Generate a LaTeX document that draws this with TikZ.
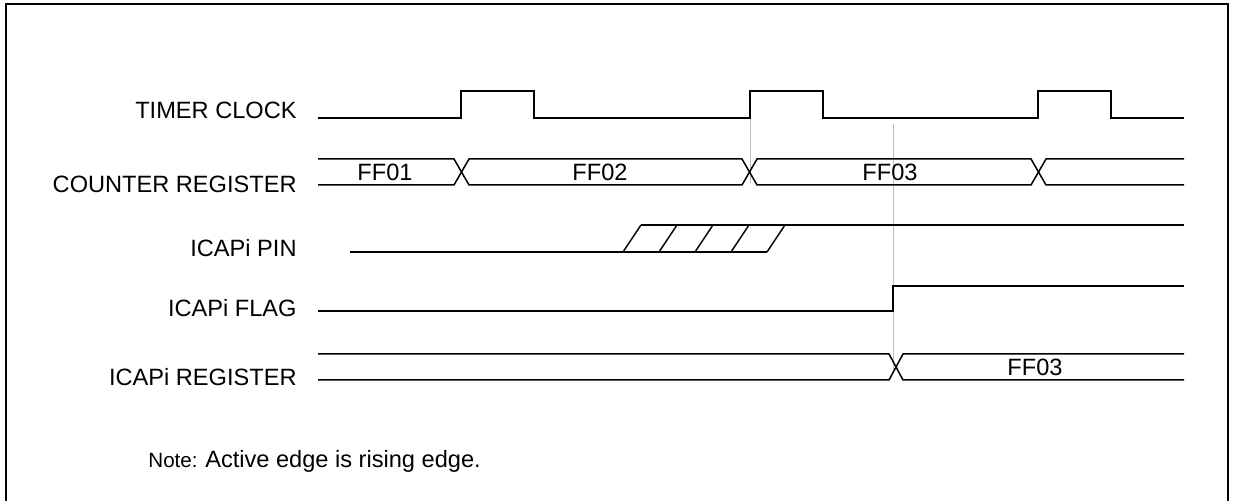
\documentclass[tikz,border=0pt]{standalone}
\usepackage{fontspec}
\setmainfont{Liberation Sans}
\tikzset{
  wave/.style={line width=1pt},
  bus/.style={line width=0.75pt},
  guide/.style={draw=black!25, line width=0.5pt},
  signame/.style={anchor=base east, inner sep=0pt, font=\fontsize{11.8}{14}\selectfont},
  busval/.style={inner sep=0pt, font=\fontsize{11.8}{14}\selectfont}
}

\begin{document}
\begin{tikzpicture}[x=0.5pt, y=-0.5pt]
	\useasboundingbox (0,0) rectangle (1235,501);
	\draw[line width=1pt] (6,520) -- (6,4) -- (1228,4) -- (1228,520);
	% signal names
	\node[signame] (clk) at (297,119) {TIMER CLOCK};
	\node[signame] (cnt) at (297,193) {COUNTER REGISTER};
	\node[signame] (pin) at (297,257) {ICAPi PIN};
	\node[signame] (flag) at (297,317) {ICAPi FLAG};
	\node[signame] (reg) at (297,386) {ICAPi REGISTER};
	% guide lines
	\draw[guide] (750,95) -- (750,183);
	\draw[guide] (893,124) -- (893,370);
	% timer clock
	\draw[wave] (318,118) -- (461,118) -- (461,91) -- (534,91) -- (534,118)
		-- (750,118) -- (750,91) -- (823,91) -- (823,118)
		-- (1038,118) -- (1038,91) -- (1111,91) -- (1111,118) -- (1184,118);
	% counter register
	\draw[bus] (318,159) -- (454,159) -- (469,185) -- (742,185) -- (757,159)
		-- (1031,159) -- (1046,185) -- (1184,185);
	\draw[bus] (318,185) -- (454,185) -- (469,159) -- (742,159) -- (757,185)
		-- (1031,185) -- (1046,159) -- (1184,159);
	\node[busval] (v1) at (385,172) {FF01};
	\node[busval] (v2) at (600,172) {FF02};
	\node[busval] (v3) at (890,172) {FF03};
	% input pin
	\draw[bus] (350,252) -- (767,252);
	\draw[wave] (641,225) -- (1184,225);
	\foreach \x in {623,659,695,731,767}
		\draw[bus] (\x,252) -- ++(18,-27);
	% flag
	\draw[wave] (318,311) -- (893,311) -- (893,286) -- (1184,286);
	% capture register
	\draw[bus] (318,354) -- (889,354) -- (903,380) -- (1184,380);
	\draw[bus] (318,380) -- (889,380) -- (903,354) -- (1184,354);
	\node[busval] (v4) at (1035,367) {FF03};
	% note
	\node[anchor=base west, inner sep=0pt] (note) at (148,467)
		{\fontsize{10.3}{12}\selectfont Note: \fontsize{11.8}{14}\selectfont Active edge is rising edge.};
\end{tikzpicture}
\end{document}
